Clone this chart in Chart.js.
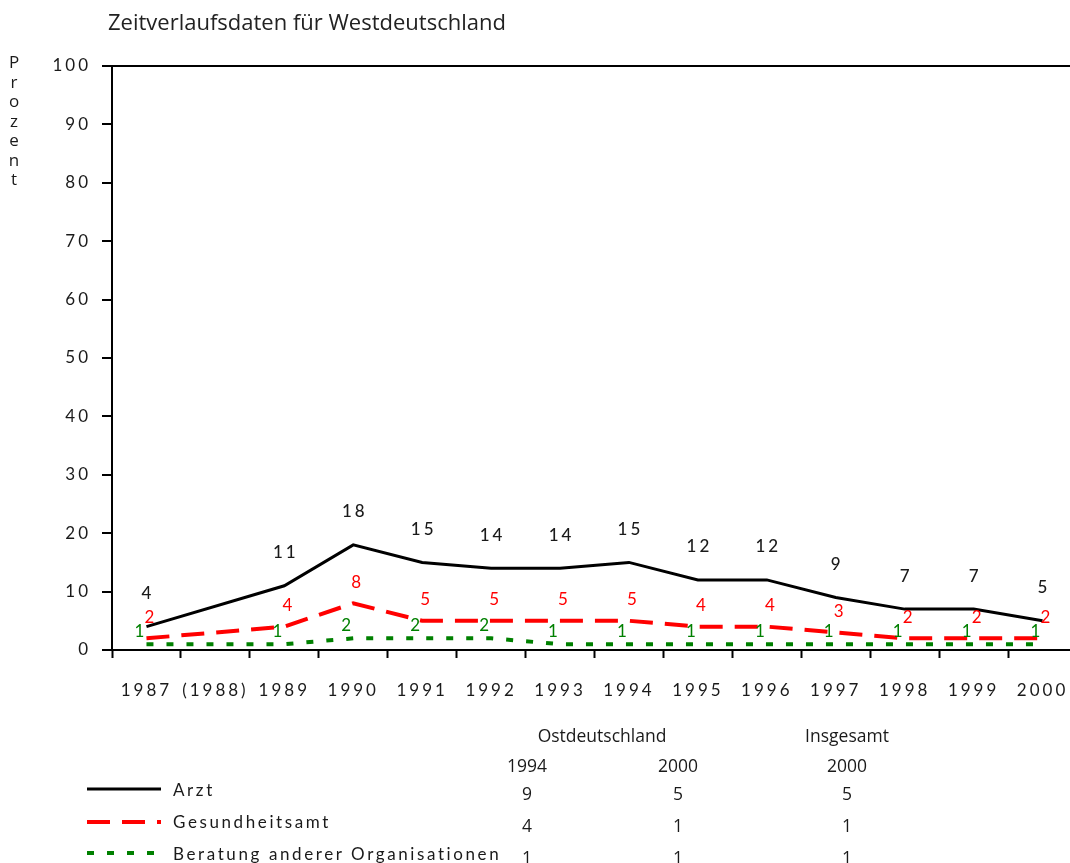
<!DOCTYPE html>
<html>
<head>
<meta charset="utf-8">
<script src="https://cdn.jsdelivr.net/npm/chart.js@4"></script>
<style>
  html, body { margin: 0; padding: 0; background: #fff; overflow: hidden; width: 1070px; height: 863px; }
  #wrap { position: relative; width: 1070px; height: 863px; overflow: hidden; font-family: "Open Sans", Lato, sans-serif; color: #1a1a1a; }
  canvas { position: absolute; left: 0; top: 0; }
  .abs { position: absolute; white-space: nowrap; }
  #title { left: 108px; top: 7px; font-size: 22px; line-height: 28px; color: #222; }
  #ytitle { left: 6px; top: 52px; width: 16px; text-align: center; font-size: 17px; line-height: 19.5px; }
  .leg { font-family: Lato, "Open Sans", sans-serif; font-size: 17px; line-height: 20px; letter-spacing: 2.6px; }
  .tab { font-size: 17.5px; line-height: 22px; transform: translateX(-50%); }
</style>
</head>
<body>
<div id="wrap">
  <canvas id="c" width="1100" height="863"></canvas>
  <div id="title" class="abs"></div>
  <div id="ytitle" class="abs"></div>
  <div id="legend"></div>
  <div id="table"></div>
</div>
<script>
// ---- data ----
const title = "Zeitverlaufsdaten für Westdeutschland";
const yTitle = "Prozent";
const years = ["1987", "(1988)", "1989", "1990", "1991", "1992", "1993", "1994", "1995", "1996", "1997", "1998", "1999", "2000"];
const seriesNames = ["Arzt", "Gesundheitsamt", "Beratung anderer Organisationen"];
const arzt = [4, null, 11, 18, 15, 14, 14, 15, 12, 12, 9, 7, 7, 5];
const gesundheitsamt = [2, null, 4, 8, 5, 5, 5, 5, 4, 4, 3, 2, 2, 2];
const beratung = [1, null, 1, 2, 2, 2, 1, 1, 1, 1, 1, 1, 1, 1];
const yTicks = [0, 10, 20, 30, 40, 50, 60, 70, 80, 90, 100];
// side table
const tableGroups = ["Ostdeutschland", "Insgesamt"];
const tableYears = ["1994", "2000", "2000"];
const ostd1994 = [9, 4, 1];
const ostd2000 = [5, 1, 1];
const insg2000 = [5, 1, 1];

// ---- styles ----
const colors = ["#000000", "#ff0000", "#008000"];
const dashes = [[], [23, 12], [7, 13]];
const widths = [3, 4, 4];
const labelOffsets = [{x: 0, y: -33}, {x: 3, y: -21}, {x: -7, y: -13}];
const LS = "3px";
const chartFont = 'Lato, "Open Sans", sans-serif';

document.getElementById('title').textContent = title;
document.getElementById('ytitle').innerHTML = yTitle.split('').map(c => '<div>' + c + '</div>').join('');

const labelPlugin = {
  id: 'pointLabels',
  beforeDraw(chart) { chart.ctx.letterSpacing = LS; },
  afterDatasetsDraw(chart) {
    const ctx = chart.ctx;
    ctx.save();
    ctx.letterSpacing = LS;
    ctx.textAlign = 'center';
    ctx.textBaseline = 'middle';
    chart.data.datasets.forEach((ds, i) => {
      ctx.font = (i === 0 ? '500 ' : '') + '17px ' + chartFont;
      const meta = chart.getDatasetMeta(i);
      meta.data.forEach((pt, j) => {
        const v = ds.data[j];
        if (v === null || v === undefined) return;
        ctx.fillStyle = i === 0 ? '#1a1a1a' : colors[i];
        ctx.fillText(String(v), pt.x + labelOffsets[i].x + 1.5, pt.y + labelOffsets[i].y);
      });
    });
    ctx.restore();
  }
};

const seriesData = [arzt, gesundheitsamt, beratung];
const chart = new Chart(document.getElementById('c'), {
  type: 'line',
  data: {
    labels: years,
    datasets: seriesData.map((d, i) => ({
      label: seriesNames[i],
      data: d,
      borderColor: colors[i],
      borderWidth: widths[i],
      borderDash: dashes[i],
      pointRadius: 0,
      tension: 0,
      spanGaps: true,
      fill: false,
      order: 3 - i
    }))
  },
  options: {
    responsive: false,
    devicePixelRatio: 1,
    animation: false,
    layout: { padding: { top: 66, left: 0, right: 23, bottom: 0 } },
    plugins: { legend: { display: false }, title: { display: false }, tooltip: { enabled: false } },
    scales: {
      x: {
        type: 'category',
        offset: true,
        grid: { offset: true, drawOnChartArea: false, color: '#000', tickColor: '#000', tickLength: 8, tickWidth: 2 },
        border: { color: '#000', width: 2 },
        ticks: { color: '#1a1a1a', font: { size: 17, family: chartFont }, padding: 22, maxRotation: 0, autoSkip: false },
        afterFit(s) { s.height = 213; }
      },
      y: {
        min: 0, max: 100,
        afterBuildTicks(s) { s.ticks = yTicks.map(v => ({ value: v })); },
        grid: {
          color: c => (c.tick && c.tick.value === 100) ? '#000' : 'rgba(0,0,0,0)',
          lineWidth: 2,
          tickColor: '#000', tickLength: 10, tickWidth: 2
        },
        border: { color: '#000', width: 2 },
        ticks: { color: '#1a1a1a', font: { size: 17, family: chartFont }, padding: 11 },
        afterFit(s) { s.width = 112; }
      }
    }
  },
  plugins: [labelPlugin]
});

// ---- legend (HTML) ----
const legend = document.getElementById('legend');
const legLine = [789, 822, 853];
const rowMid = [791, 823, 855];
seriesNames.forEach((n, i) => {
  const svg = `<svg class="abs" style="left:87px;top:${legLine[i]-4}px" width="75" height="8"><line x1="0" y1="4" x2="74" y2="4" stroke="${colors[i]}" stroke-width="${widths[i]}" stroke-dasharray="${dashes[i].join(',') || 'none'}"/></svg>`;
  legend.insertAdjacentHTML('beforeend', svg + `<div class="abs leg" style="left:173px;top:${rowMid[i]-11}px">${n}</div>`);
});

// ---- side table (HTML) ----
const table = document.getElementById('table');
const colX = [527, 678, 847];
const put = (txt, x, y) => table.insertAdjacentHTML('beforeend', `<div class="abs tab" style="left:${x}px;top:${y}px">${txt}</div>`);
put(tableGroups[0], 602, 724);
put(tableGroups[1], 847, 724);
tableYears.forEach((t, k) => put(t, colX[k], 754));
[ostd1994, ostd2000, insg2000].forEach((col, k) => col.forEach((v, r) => put(v, colX[k], rowMid[r] - 9)));
</script>
</body>
</html>
